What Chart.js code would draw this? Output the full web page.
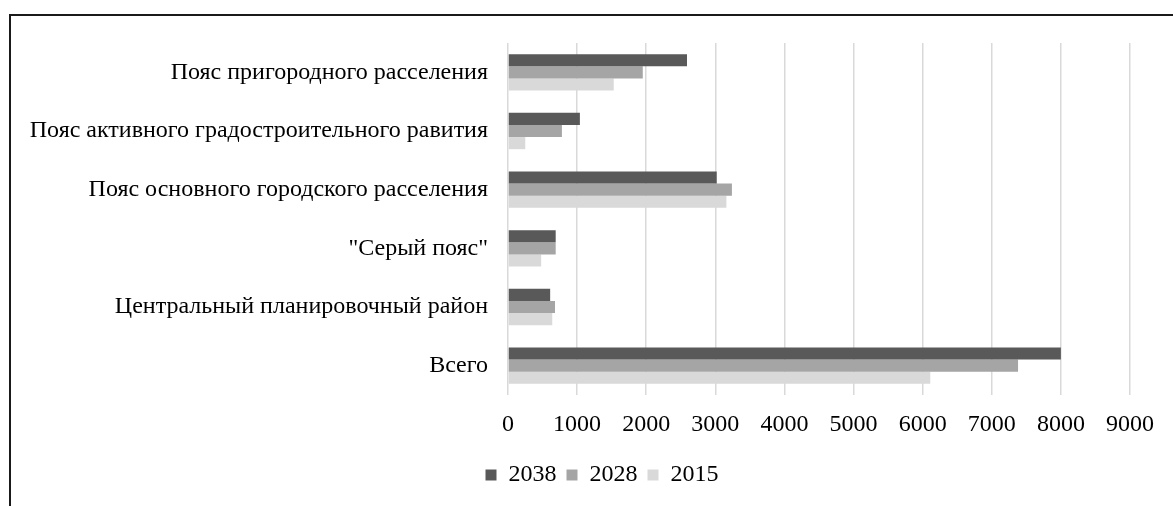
<!DOCTYPE html>
<html>
<head>
<meta charset="utf-8">
<script src="https://cdn.jsdelivr.net/npm/chart.js@4/dist/chart.umd.min.js"></script>
<style>
  html, body { margin: 0; padding: 0; background: #fff; width: 1173px; height: 506px; overflow: hidden; }
  #frame { position: absolute; left: 9px; top: 14px; width: 1200px; height: 600px;
           border-left: 2px solid #1a1a1a; border-top: 2px solid #1a1a1a; }
  #c { position: absolute; left: 0; top: 0; }
</style>
</head>
<body>
<div id="frame"></div>
<canvas id="c" width="1173" height="506"></canvas>
<script>
const categories = [
  'Пояс пригородного расселения',
  'Пояс активного градостроительного равития',
  'Пояс основного городского расселения',
  '"Серый пояс"',
  'Центральный планировочный район',
  'Всего'
];
const seriesNames = ['2038', '2028', '2015'];
const values2038 = [2590, 1040, 3020, 690, 610, 8000];
const values2028 = [1950, 780, 3240, 690, 680, 7380];
const values2015 = [1530, 250, 3160, 480, 640, 6110];
const tickMin = 0, tickMax = 9000, tickStep = 1000;

const colors = ['#595959', '#a5a5a5', '#d9d9d9'];
const FONT = "'Liberation Serif', 'Times New Roman', serif";

const legendShift = {
  id: 'legendShift',
  afterLayout(chart) {
    const lg = chart.legend;
    if (lg) { lg.left = 74; lg.width = lg.right - lg.left; }
  }
};

new Chart(document.getElementById('c'), {
  type: 'bar',
  data: {
    labels: categories,
    datasets: [values2038, values2028, values2015].map((v, i) => ({
      label: seriesNames[i],
      data: v,
      backgroundColor: colors[i],
      borderWidth: 0,
      categoryPercentage: 0.62,
      barPercentage: 1.0
    }))
  },
  plugins: [legendShift],
  options: {
    indexAxis: 'y',
    responsive: false,
    animation: false,
    devicePixelRatio: 1,
    layout: { padding: { top: 43, left: 12, right: 43, bottom: 9 } },
    plugins: {
      tooltip: { enabled: false },
      legend: {
        position: 'bottom',
        labels: {
          color: '#000',
          font: { family: FONT, size: 24 },
          boxWidth: 11,
          boxHeight: 11,
          padding: 10
        }
      }
    },
    scales: {
      x: {
        min: tickMin, max: tickMax,
        ticks: { stepSize: tickStep, color: '#000', font: { family: FONT, size: 24 }, padding: 15, maxRotation: 0,
                 callback: (v) => String(v) },
        grid: { color: '#d9d9d9', lineWidth: 1.5, drawTicks: false },
        border: { display: false },
        afterFit: (s) => { s.height = 58; }
      },
      y: {
        ticks: { color: '#000', font: { family: FONT, size: 24 }, padding: 20 },
        grid: { display: false, drawTicks: false },
        border: { display: false },
        afterFit: (s) => { s.width = 508 - 12; }
      }
    }
  }
});
</script>
</body>
</html>
